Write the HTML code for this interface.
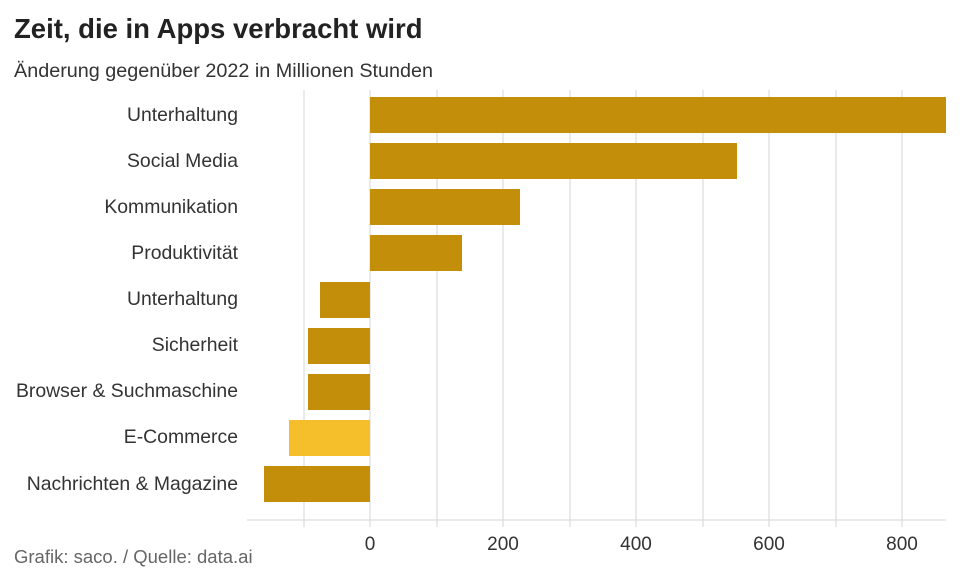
<!DOCTYPE html>
<html><head><meta charset="utf-8"><style>
body{margin:0;background:#fff;}
svg{display:block;font-family:"Liberation Sans","DejaVu Sans",sans-serif;}
</style></head><body>
<svg width="960" height="584" viewBox="0 0 960 584">
<text x="14" y="38" font-size="27.5" font-weight="bold" fill="#222">Zeit, die in Apps verbracht wird</text>
<text x="14" y="77" font-size="19.8" fill="#333">Änderung gegenüber 2022 in Millionen Stunden</text>
<g stroke="#d6d6d6" stroke-width="1">
<line x1="304" y1="90" x2="304" y2="527"/>
<line x1="370" y1="90" x2="370" y2="527"/>
<line x1="437" y1="90" x2="437" y2="527"/>
<line x1="503" y1="90" x2="503" y2="527"/>
<line x1="570" y1="90" x2="570" y2="527"/>
<line x1="636" y1="90" x2="636" y2="527"/>
<line x1="703" y1="90" x2="703" y2="527"/>
<line x1="769" y1="90" x2="769" y2="527"/>
<line x1="836" y1="90" x2="836" y2="527"/>
<line x1="902" y1="90" x2="902" y2="527"/>
<line x1="247" y1="520" x2="946" y2="520"/>
</g>
<g fill="#c38f0b">
<rect x="370" y="97" width="576" height="36"/>
<rect x="370" y="143" width="367" height="36"/>
<rect x="370" y="189" width="150" height="36"/>
<rect x="370" y="235" width="92" height="36"/>
<rect x="320" y="282" width="50" height="36"/>
<rect x="308" y="328" width="62" height="36"/>
<rect x="308" y="374" width="62" height="36"/>
<rect x="264" y="466" width="106" height="36"/>
</g>
<rect x="289" y="420" width="81" height="36" fill="#f4bf2a"/>
<g font-size="19.4" fill="#333" text-anchor="end">
<text x="238" y="121">Unterhaltung</text>
<text x="238" y="167">Social Media</text>
<text x="238" y="213">Kommunikation</text>
<text x="238" y="259">Produktivität</text>
<text x="238" y="305">Unterhaltung</text>
<text x="238" y="351">Sicherheit</text>
<text x="238" y="397">Browser &amp; Suchmaschine</text>
<text x="238" y="443">E-Commerce</text>
<text x="238" y="490">Nachrichten &amp; Magazine</text>
</g>
<g font-size="19" fill="#333" text-anchor="middle">
<text x="370" y="550">0</text>
<text x="503" y="550">200</text>
<text x="636" y="550">400</text>
<text x="769" y="550">600</text>
<text x="902" y="550">800</text>
</g>
<text x="14" y="563" font-size="18.5" fill="#666">Grafik: saco. / Quelle: data.ai</text>
</svg>
</body></html>
